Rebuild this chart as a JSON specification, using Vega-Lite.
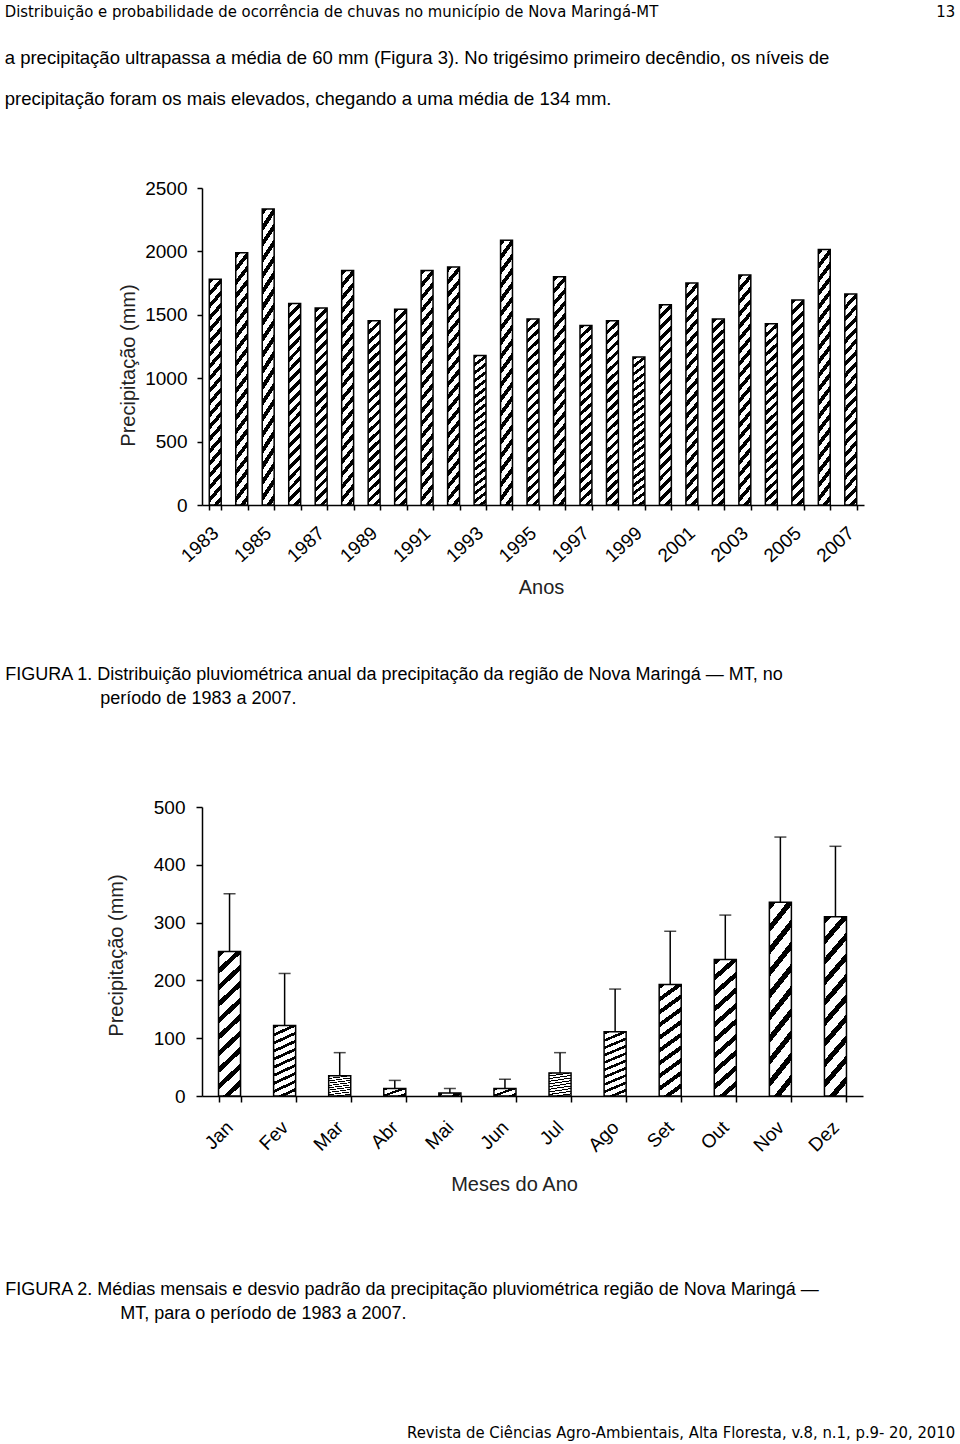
{
  "$schema": "https://vega.github.io/schema/vega-lite/v6.json",
  "background": "white",
  "padding": {"left": 4, "top": 4, "right": 0, "bottom": 0},
  "config": {
    "view": {"stroke": null},
    "font": "Liberation Sans",
    "axis": {"domainColor": "black", "domainWidth": 1.5, "tickColor": "black", "tickWidth": 1.5, "labelColor": "black", "labelFont": "Liberation Sans", "labelFontSize": 19, "titleFont": "Liberation Sans", "titleFontSize": 20, "titleFontWeight": "normal", "titleColor": "#222", "grid": false},
    "title": {"fontWeight": "normal", "color": "black", "subtitleColor": "black", "font": "Liberation Sans"}
  },
  "title": {"text": "Revista de Ciências Agro-Ambientais, Alta Floresta, v.8, n.1, p.9- 20, 2010", "orient": "bottom", "anchor": "end", "font": "DejaVu Sans Condensed, sans-serif", "fontSize": 16.5, "offset": 102},
  "columns": 1,
  "align": "none",
  "spacing": 68,
  "concat": [
    {
      "width": 662,
      "height": 317,
      "title": {
        "text": "Distribuição e probabilidade de ocorrência de chuvas no município de Nova Maringá-MT\u00a0\u00a0\u00a0\u00a0\u00a0\u00a0\u00a0\u00a0\u00a0\u00a0\u00a0\u00a0\u00a0\u00a0\u00a0\u00a0\u00a0\u00a0\u00a0\u00a0\u00a0\u00a0\u00a0\u00a0\u00a0\u00a0\u00a0\u00a0\u00a0\u00a0\u00a0\u00a0\u00a0\u00a0\u00a0\u00a0\u00a0\u00a0\u00a0\u00a0\u00a0\u00a0\u00a0\u00a0\u00a0\u00a0\u00a0\u00a0\u00a0\u00a0\u00a0\u00a0\u00a0\u00a0\u00a0\u00a0\u00a0\u00a0\u00a013",
        "subtitle": ["a precipitação ultrapassa a média de 60 mm (Figura 3). No trigésimo primeiro decêndio, os níveis de", "precipitação foram os mais elevados, chegando a uma média de 134 mm."],
        "anchor": "start",
        "dx": -114,
        "font": "DejaVu Sans Condensed, sans-serif",
        "fontSize": 16.5,
        "subtitleFont": "Liberation Sans",
        "subtitleFontSize": 18.5,
        "subtitleLineHeight": 41,
        "subtitlePadding": 28,
        "offset": 71
      },
      "data": {"values": [
        {"ano": 1983, "precipitacao": 1780},
        {"ano": 1984, "precipitacao": 1990},
        {"ano": 1985, "precipitacao": 2335},
        {"ano": 1986, "precipitacao": 1590},
        {"ano": 1987, "precipitacao": 1553},
        {"ano": 1988, "precipitacao": 1850},
        {"ano": 1989, "precipitacao": 1453},
        {"ano": 1990, "precipitacao": 1543},
        {"ano": 1991, "precipitacao": 1850},
        {"ano": 1992, "precipitacao": 1877},
        {"ano": 1993, "precipitacao": 1180},
        {"ano": 1994, "precipitacao": 2088},
        {"ano": 1995, "precipitacao": 1466},
        {"ano": 1996, "precipitacao": 1800},
        {"ano": 1997, "precipitacao": 1416},
        {"ano": 1998, "precipitacao": 1453},
        {"ano": 1999, "precipitacao": 1168},
        {"ano": 2000, "precipitacao": 1579},
        {"ano": 2001, "precipitacao": 1751},
        {"ano": 2002, "precipitacao": 1466},
        {"ano": 2003, "precipitacao": 1814},
        {"ano": 2004, "precipitacao": 1429},
        {"ano": 2005, "precipitacao": 1616},
        {"ano": 2006, "precipitacao": 2014},
        {"ano": 2007, "precipitacao": 1664}
      ]},
      "mark": {
        "type": "bar",
        "stroke": "black",
        "strokeWidth": 1.5,
        "fill": {
          "gradient": "linear", "x1": 0, "y1": 0, "x2": 0.065, "y2": 1.07,
          "stops": [
            {"offset": 0, "color": "#000"}, {"offset": 0.0225, "color": "#000"}, {"offset": 0.0225, "color": "#fff"}, {"offset": 0.05, "color": "#fff"},
            {"offset": 0.05, "color": "#000"}, {"offset": 0.0725, "color": "#000"}, {"offset": 0.0725, "color": "#fff"}, {"offset": 0.1, "color": "#fff"},
            {"offset": 0.1, "color": "#000"}, {"offset": 0.1225, "color": "#000"}, {"offset": 0.1225, "color": "#fff"}, {"offset": 0.15, "color": "#fff"},
            {"offset": 0.15, "color": "#000"}, {"offset": 0.1725, "color": "#000"}, {"offset": 0.1725, "color": "#fff"}, {"offset": 0.2, "color": "#fff"},
            {"offset": 0.2, "color": "#000"}, {"offset": 0.2225, "color": "#000"}, {"offset": 0.2225, "color": "#fff"}, {"offset": 0.25, "color": "#fff"},
            {"offset": 0.25, "color": "#000"}, {"offset": 0.2725, "color": "#000"}, {"offset": 0.2725, "color": "#fff"}, {"offset": 0.3, "color": "#fff"},
            {"offset": 0.3, "color": "#000"}, {"offset": 0.3225, "color": "#000"}, {"offset": 0.3225, "color": "#fff"}, {"offset": 0.35, "color": "#fff"},
            {"offset": 0.35, "color": "#000"}, {"offset": 0.3725, "color": "#000"}, {"offset": 0.3725, "color": "#fff"}, {"offset": 0.4, "color": "#fff"},
            {"offset": 0.4, "color": "#000"}, {"offset": 0.4225, "color": "#000"}, {"offset": 0.4225, "color": "#fff"}, {"offset": 0.45, "color": "#fff"},
            {"offset": 0.45, "color": "#000"}, {"offset": 0.4725, "color": "#000"}, {"offset": 0.4725, "color": "#fff"}, {"offset": 0.5, "color": "#fff"},
            {"offset": 0.5, "color": "#000"}, {"offset": 0.5225, "color": "#000"}, {"offset": 0.5225, "color": "#fff"}, {"offset": 0.55, "color": "#fff"},
            {"offset": 0.55, "color": "#000"}, {"offset": 0.5725, "color": "#000"}, {"offset": 0.5725, "color": "#fff"}, {"offset": 0.6, "color": "#fff"},
            {"offset": 0.6, "color": "#000"}, {"offset": 0.6225, "color": "#000"}, {"offset": 0.6225, "color": "#fff"}, {"offset": 0.65, "color": "#fff"},
            {"offset": 0.65, "color": "#000"}, {"offset": 0.6725, "color": "#000"}, {"offset": 0.6725, "color": "#fff"}, {"offset": 0.7, "color": "#fff"},
            {"offset": 0.7, "color": "#000"}, {"offset": 0.7225, "color": "#000"}, {"offset": 0.7225, "color": "#fff"}, {"offset": 0.75, "color": "#fff"},
            {"offset": 0.75, "color": "#000"}, {"offset": 0.7725, "color": "#000"}, {"offset": 0.7725, "color": "#fff"}, {"offset": 0.8, "color": "#fff"},
            {"offset": 0.8, "color": "#000"}, {"offset": 0.8225, "color": "#000"}, {"offset": 0.8225, "color": "#fff"}, {"offset": 0.85, "color": "#fff"},
            {"offset": 0.85, "color": "#000"}, {"offset": 0.8725, "color": "#000"}, {"offset": 0.8725, "color": "#fff"}, {"offset": 0.9, "color": "#fff"},
            {"offset": 0.9, "color": "#000"}, {"offset": 0.9225, "color": "#000"}, {"offset": 0.9225, "color": "#fff"}, {"offset": 0.95, "color": "#fff"},
            {"offset": 0.95, "color": "#000"}, {"offset": 0.9725, "color": "#000"}, {"offset": 0.9725, "color": "#fff"}, {"offset": 1, "color": "#fff"}
          ]
        }
      },
      "encoding": {
        "x": {
          "field": "ano", "type": "ordinal",
          "scale": {"paddingInner": 0.55, "paddingOuter": 0.275},
          "axis": {"title": "Anos", "titleX": 339, "labelAngle": -42, "labelAlign": "right", "labelBaseline": "middle", "labelPadding": 20, "tickSize": 5, "tickBand": "extent", "labelExpr": "datum.value % 2 == 1 ? datum.label : ''", "labelOverlap": false, "titlePadding": 12}
        },
        "y": {
          "field": "precipitacao", "type": "quantitative",
          "scale": {"domain": [0, 2500], "nice": false},
          "axis": {"title": "Precipitação (mm)", "titleY": 177, "format": "d", "values": [0, 500, 1000, 1500, 2000, 2500], "tickSize": 5, "labelPadding": 10, "titlePadding": 6}
        }
      }
    },
    {
      "title": {
        "text": ["FIGURA 2. Médias mensais e desvio padrão da precipitação pluviométrica região de Nova Maringá —", "\u200b\u00a0\u00a0\u00a0\u00a0\u00a0\u00a0\u00a0\u00a0\u00a0\u00a0\u00a0\u00a0\u00a0\u00a0\u00a0\u00a0\u00a0\u00a0\u00a0\u00a0\u00a0\u00a0\u00a0MT, para o período de 1983 a 2007."],
        "orient": "bottom", "anchor": "start", "fontSize": 18, "lineHeight": 24, "offset": 86
      },
      "columns": 1,
      "concat": [
        {
          "width": 661,
          "height": 289,
          "title": {
            "text": ["FIGURA 1. Distribuição pluviométrica anual da precipitação da região de Nova Maringá — MT, no", "\u200b\u00a0\u00a0\u00a0\u00a0\u00a0\u00a0\u00a0\u00a0\u00a0\u00a0\u00a0\u00a0\u00a0\u00a0\u00a0\u00a0\u00a0\u00a0\u00a0período de 1983 a 2007."],
            "anchor": "start", "dx": -101, "fontSize": 18, "lineHeight": 24, "offset": 90
          },
          "data": {"values": [
            {"mes": "Jan", "media": 250, "superior": 350},
            {"mes": "Fev", "media": 122, "superior": 212},
            {"mes": "Mar", "media": 35, "superior": 75},
            {"mes": "Abr", "media": 13, "superior": 27},
            {"mes": "Mai", "media": 5, "superior": 13},
            {"mes": "Jun", "media": 13, "superior": 29},
            {"mes": "Jul", "media": 40, "superior": 75},
            {"mes": "Ago", "media": 111, "superior": 185},
            {"mes": "Set", "media": 193, "superior": 285},
            {"mes": "Out", "media": 236, "superior": 313},
            {"mes": "Nov", "media": 335, "superior": 448},
            {"mes": "Dez", "media": 310, "superior": 432}
          ]},
          "encoding": {
            "x": {
              "field": "mes", "type": "nominal", "sort": null,
              "scale": {"paddingInner": 0.6, "paddingOuter": 0.3},
              "axis": {"title": "Meses do Ano", "titleX": 312, "labelAngle": -45, "labelAlign": "right", "labelBaseline": "middle", "labelPadding": 22, "tickSize": 6, "tickBand": "extent", "labelOverlap": false, "titlePadding": 20}
            }
          },
          "layer": [
            {
              "mark": {
                "type": "bar",
                "stroke": "black",
                "strokeWidth": 1.5,
                "fill": {
                  "gradient": "linear", "x1": 0, "y1": 0, "x2": 0.16, "y2": 1.12,
                  "stops": [
                    {"offset": 0, "color": "#000"}, {"offset": 0.038, "color": "#000"}, {"offset": 0.038, "color": "#fff"}, {"offset": 0.1, "color": "#fff"},
                    {"offset": 0.1, "color": "#000"}, {"offset": 0.138, "color": "#000"}, {"offset": 0.138, "color": "#fff"}, {"offset": 0.2, "color": "#fff"},
                    {"offset": 0.2, "color": "#000"}, {"offset": 0.238, "color": "#000"}, {"offset": 0.238, "color": "#fff"}, {"offset": 0.3, "color": "#fff"},
                    {"offset": 0.3, "color": "#000"}, {"offset": 0.338, "color": "#000"}, {"offset": 0.338, "color": "#fff"}, {"offset": 0.4, "color": "#fff"},
                    {"offset": 0.4, "color": "#000"}, {"offset": 0.438, "color": "#000"}, {"offset": 0.438, "color": "#fff"}, {"offset": 0.5, "color": "#fff"},
                    {"offset": 0.5, "color": "#000"}, {"offset": 0.538, "color": "#000"}, {"offset": 0.538, "color": "#fff"}, {"offset": 0.6, "color": "#fff"},
                    {"offset": 0.6, "color": "#000"}, {"offset": 0.638, "color": "#000"}, {"offset": 0.638, "color": "#fff"}, {"offset": 0.7, "color": "#fff"},
                    {"offset": 0.7, "color": "#000"}, {"offset": 0.738, "color": "#000"}, {"offset": 0.738, "color": "#fff"}, {"offset": 0.8, "color": "#fff"},
                    {"offset": 0.8, "color": "#000"}, {"offset": 0.838, "color": "#000"}, {"offset": 0.838, "color": "#fff"}, {"offset": 0.9, "color": "#fff"},
                    {"offset": 0.9, "color": "#000"}, {"offset": 0.938, "color": "#000"}, {"offset": 0.938, "color": "#fff"}, {"offset": 1, "color": "#fff"}
                  ]
                }
              },
              "encoding": {
                "y": {
                  "field": "media", "type": "quantitative",
                  "scale": {"domain": [0, 500], "nice": false},
                  "axis": {"title": "Precipitação (mm)", "titleY": 148, "values": [0, 50, 100, 150, 200, 250, 300, 350, 400, 450, 500], "tickSize": 6, "labelPadding": 11, "titlePadding": 27}
                }
              }
            },
            {
              "mark": {"type": "rule", "color": "black", "strokeWidth": 1.5},
              "encoding": {
                "y": {"field": "media", "type": "quantitative", "axis": {"title": "Precipitação (mm)"}},
                "y2": {"field": "superior"}
              }
            },
            {
              "mark": {"type": "tick", "color": "black", "thickness": 1.5, "size": 12},
              "encoding": {
                "y": {"field": "superior", "type": "quantitative", "axis": {"title": "Precipitação (mm)"}}
              }
            }
          ]
        }
      ]
    }
  ]
}
